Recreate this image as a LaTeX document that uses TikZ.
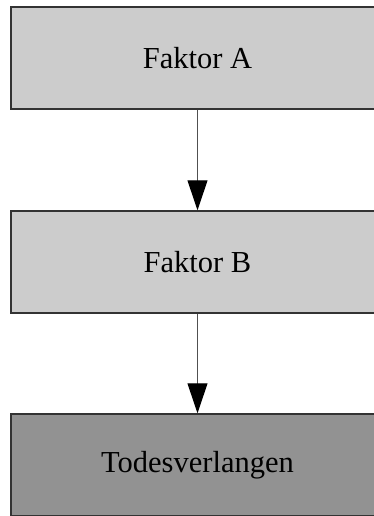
\documentclass[tikz,border=0pt]{standalone}
\usepackage{fontspec}
\setmainfont{Liberation Serif}
\usetikzlibrary{arrows.meta}
\definecolor{boxlight}{RGB}{204,204,204}
\definecolor{boxdark}{RGB}{146,146,146}
\definecolor{edge}{RGB}{51,51,51}
\definecolor{conn}{RGB}{80,80,80}
\tikzset{
  factorbox/.style={draw=edge, line width=1.5pt, minimum width=373pt, minimum height=102pt, inner sep=0pt, font=\fontsize{30.5}{36}\selectfont, text=black},
  flowarrow/.style={draw=conn, line width=1pt, -{Triangle[width=20pt,length=30pt,fill=black,color=black]}}
}
\begin{document}
\begin{tikzpicture}[x=1pt,y=-1pt]
\useasboundingbox (0,0) rectangle (374,516);
\node[factorbox, fill=boxlight] (a) at (197.5,58) {Faktor A};
\node[factorbox, fill=boxlight] (b) at (197.5,262) {Faktor B};
\node[factorbox, fill=boxdark] (c) at (197.5,465) {Todesverlangen};
\draw[flowarrow] (a.south) -- (b.north);
\draw[flowarrow] (b.south) -- (c.north);
\end{tikzpicture}
\end{document}
